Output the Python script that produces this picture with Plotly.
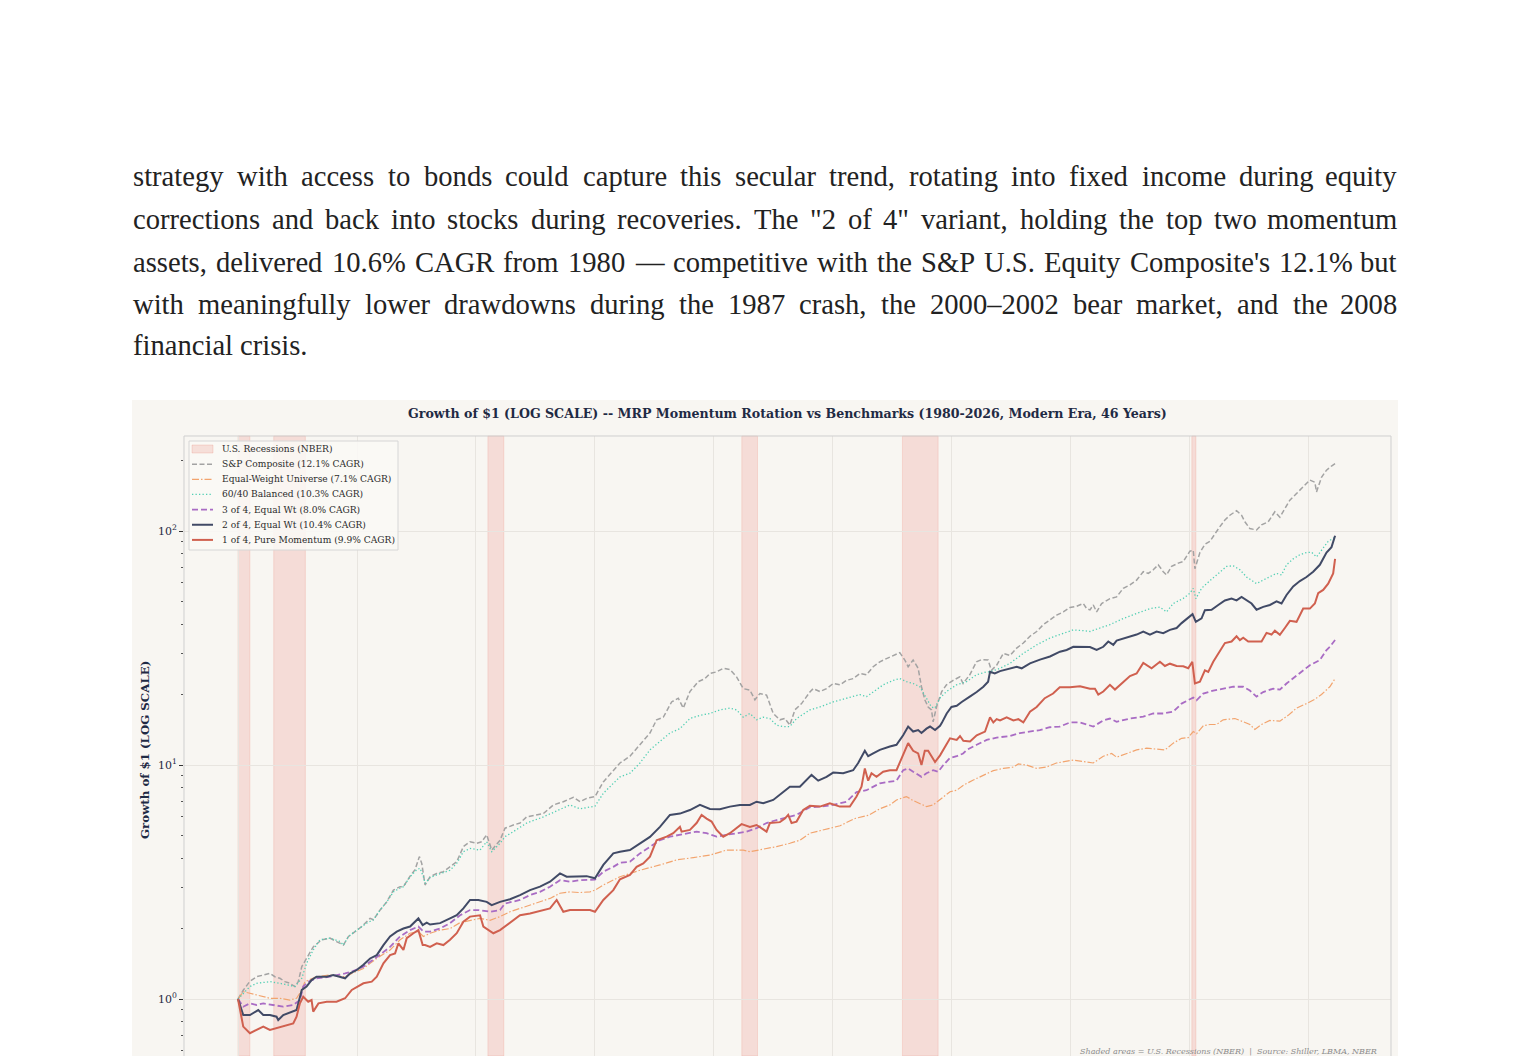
import plotly.graph_objects as go

# page body adds an 8px margin, so the figure is sized to fill the rest of the window
OFF = 8
W, H = 1530 - OFF, 1056 - OFF

# NBER recessions (decimal years)
REC_START = [1980.0, 1981.5, 1990.5, 2001.17, 2007.92, 2020.08]
REC_END = [1980.5, 1982.83, 1991.17, 2001.83, 2009.42, 2020.25]

# growth of $1, (year, value)
SP_COMPOSITE = [
    (1980.0, 1.0), (1980.22, 1.09), (1980.5, 1.19), (1980.78, 1.245), (1981.06, 1.266), (1981.34, 1.287),
    (1981.55, 1.245), (1981.76, 1.226), (1981.97, 1.186), (1982.18, 1.167), (1982.39, 1.13), (1982.53, 1.186),
    (1982.68, 1.375), (1982.88, 1.49), (1983.16, 1.67), (1983.51, 1.79), (1983.86, 1.82), (1984.14, 1.76),
    (1984.43, 1.70), (1984.64, 1.85), (1984.92, 1.94), (1985.2, 2.04), (1985.55, 2.21), (1985.69, 2.18),
    (1985.97, 2.40), (1986.25, 2.60), (1986.53, 2.92), (1986.81, 3.02), (1986.95, 3.02), (1987.23, 3.35),
    (1987.44, 3.57), (1987.62, 4.06), (1987.72, 3.80), (1987.86, 3.07), (1988.07, 3.33), (1988.35, 3.44),
    (1988.63, 3.50), (1988.91, 3.67), (1989.19, 3.86), (1989.47, 4.48), (1989.75, 4.70), (1990.03, 4.63),
    (1990.24, 4.70), (1990.45, 5.03), (1990.66, 4.33), (1991.01, 4.77), (1991.22, 5.37), (1991.57, 5.54),
    (1991.85, 5.65), (1992.13, 6.0), (1992.48, 6.12), (1992.83, 6.2), (1993.25, 6.75), (1993.67, 6.97),
    (1994.09, 7.28), (1994.37, 6.97), (1994.65, 7.2), (1995.0, 7.33), (1995.35, 8.47), (1995.77, 9.5),
    (1996.05, 10.2), (1996.47, 10.9), (1996.89, 12.2), (1997.31, 13.7), (1997.59, 15.6), (1997.87, 16.0),
    (1998.22, 18.6), (1998.5, 19.3), (1998.71, 17.5), (1998.99, 20.6), (1999.34, 22.7), (1999.62, 23.4),
    (1999.83, 24.6), (2000.11, 25.0), (2000.39, 25.9), (2000.67, 25.6), (2000.95, 23.8), (2001.23, 21.2),
    (2001.51, 20.9), (2001.72, 19.0), (2001.93, 20.2), (2002.21, 19.9), (2002.49, 16.6), (2002.77, 15.6),
    (2002.98, 15.8), (2003.19, 14.8), (2003.4, 17.2), (2003.68, 18.3), (2004.03, 20.5), (2004.17, 21.2),
    (2004.45, 20.6), (2004.73, 21.2), (2005.01, 22.3), (2005.29, 22.0), (2005.57, 23.0), (2005.85, 23.4),
    (2006.13, 24.6), (2006.41, 24.3), (2006.69, 26.3), (2006.97, 27.6), (2007.25, 28.5), (2007.53, 29.4),
    (2007.81, 30.2), (2008.02, 28.1), (2008.16, 26.3), (2008.37, 28.1), (2008.58, 25.9), (2008.72, 21.6),
    (2008.86, 19.0), (2009.0, 17.7), (2009.14, 17.2), (2009.21, 15.3), (2009.35, 17.7), (2009.57, 20.6),
    (2009.77, 22.0), (2010.05, 23.0), (2010.33, 23.8), (2010.47, 22.3), (2010.75, 24.3), (2011.03, 27.6),
    (2011.24, 28.2), (2011.52, 28.1), (2011.66, 25.4), (2011.88, 26.7), (2012.16, 30.0), (2012.44, 29.4),
    (2012.72, 31.6), (2013.0, 33.2), (2013.28, 35.5), (2013.56, 37.2), (2013.84, 39.8), (2014.12, 41.7),
    (2014.4, 43.7), (2014.68, 45.1), (2014.96, 47.1), (2015.24, 47.7), (2015.52, 49.0), (2015.66, 46.6),
    (2015.8, 46.0), (2015.94, 48.3), (2016.08, 45.1), (2016.29, 49.0), (2016.64, 51.4), (2016.92, 52.3),
    (2017.2, 56.9), (2017.48, 58.8), (2017.76, 61.7), (2018.04, 67.0), (2018.25, 65.9), (2018.46, 68.3),
    (2018.67, 71.7), (2018.88, 67.0), (2019.02, 64.9), (2019.23, 70.6), (2019.51, 72.9), (2019.72, 74.0),
    (2020.0, 82.0), (2020.14, 82.8), (2020.21, 69.0), (2020.42, 80.9), (2020.63, 87.7), (2020.84, 90.3),
    (2021.05, 97.5), (2021.26, 104.4), (2021.47, 111.4), (2021.68, 116.8), (2021.96, 122.1), (2022.17, 116.8),
    (2022.31, 109.5), (2022.52, 102.4), (2022.8, 101.0), (2023.01, 106.2), (2023.29, 109.5), (2023.57, 120.8),
    (2023.78, 114.6), (2023.99, 124.8), (2024.2, 135.5), (2024.48, 144.6), (2024.76, 154.5), (2025.04, 165.0),
    (2025.25, 161.6), (2025.32, 146.9), (2025.53, 169.7), (2025.74, 182.0), (2025.95, 189.5), (2026.1, 193.9),
]

EQUAL_WEIGHT = [
    (1980.0, 1.0), (1980.22, 1.075), (1980.5, 1.058), (1980.78, 1.04), (1981.06, 1.023), (1981.34, 1.007),
    (1981.76, 1.007), (1982.18, 0.99), (1982.46, 1.007), (1982.68, 1.093), (1982.81, 1.186), (1983.3, 1.245),
    (1983.86, 1.266), (1984.5, 1.245), (1984.78, 1.287), (1985.27, 1.35), (1985.55, 1.42), (1985.83, 1.49),
    (1986.39, 1.62), (1986.81, 1.79), (1987.23, 1.91), (1987.58, 1.94), (1987.79, 1.85), (1988.07, 1.91),
    (1988.49, 1.97), (1988.91, 2.0), (1989.33, 2.12), (1989.75, 2.17), (1990.17, 2.21), (1990.59, 2.17),
    (1991.01, 2.25), (1991.43, 2.36), (1991.85, 2.44), (1992.27, 2.52), (1992.69, 2.60), (1993.11, 2.69),
    (1993.53, 2.83), (1993.95, 2.87), (1994.37, 2.85), (1994.79, 2.87), (1995.0, 2.92), (1995.35, 3.07),
    (1996.05, 3.33), (1996.89, 3.55), (1997.73, 3.74), (1998.43, 3.93), (1999.13, 4.02), (1999.83, 4.12),
    (2000.53, 4.33), (2001.23, 4.33), (2001.51, 4.26), (2001.93, 4.33), (2002.63, 4.48), (2003.19, 4.63),
    (2003.61, 4.77), (2004.03, 5.11), (2004.7, 5.3), (2005.3, 5.5), (2005.9, 5.9), (2006.5, 6.1),
    (2006.97, 6.5), (2007.39, 6.75), (2007.67, 7.09), (2008.09, 7.33), (2008.37, 7.05), (2008.65, 6.86),
    (2008.93, 6.64), (2009.21, 6.75), (2009.57, 7.2), (2009.92, 7.69), (2010.2, 7.8), (2010.48, 8.2),
    (2010.9, 8.63), (2011.32, 9.07), (2011.74, 9.46), (2012.16, 9.67), (2012.58, 9.8), (2012.79, 10.1),
    (2013.14, 10.0), (2013.56, 9.67), (2013.97, 9.8), (2014.39, 10.2), (2014.81, 10.35), (2015.1, 10.5),
    (2015.52, 10.35), (2015.94, 10.2), (2016.36, 10.9), (2016.71, 11.2), (2016.92, 10.8), (2017.34, 11.2),
    (2017.76, 11.6), (2018.18, 11.8), (2018.6, 11.7), (2018.95, 11.6), (2019.3, 12.4), (2019.65, 13.0),
    (2019.93, 13.1), (2020.14, 13.9), (2020.28, 13.6), (2020.56, 14.7), (2020.84, 14.9), (2021.12, 14.9),
    (2021.4, 15.6), (2021.89, 15.8), (2022.24, 15.3), (2022.52, 14.9), (2022.73, 14.2), (2023.01, 14.9),
    (2023.36, 15.5), (2023.78, 15.4), (2024.13, 16.3), (2024.48, 17.5), (2024.9, 18.3), (2025.25, 19.1),
    (2025.53, 20.0), (2025.88, 21.6), (2026.1, 23.4),
]

BALANCED_6040 = [
    (1980.0, 1.0), (1980.22, 1.06), (1980.5, 1.13), (1980.78, 1.167), (1981.06, 1.18), (1981.34, 1.186),
    (1981.76, 1.167), (1982.11, 1.148), (1982.39, 1.13), (1982.68, 1.226), (1982.88, 1.42), (1983.16, 1.62),
    (1983.44, 1.79), (1983.86, 1.82), (1984.29, 1.76), (1984.43, 1.70), (1984.64, 1.85), (1984.99, 1.97),
    (1985.41, 2.11), (1985.69, 2.18), (1985.97, 2.40), (1986.25, 2.60), (1986.53, 2.87), (1986.81, 2.98),
    (1986.95, 3.02), (1987.23, 3.33), (1987.51, 3.57), (1987.65, 3.62), (1987.79, 3.33), (1987.86, 3.12),
    (1988.07, 3.30), (1988.35, 3.39), (1988.91, 3.55), (1989.19, 3.80), (1989.47, 4.26), (1989.75, 4.40),
    (1990.17, 4.33), (1990.45, 4.70), (1990.66, 4.26), (1991.01, 4.63), (1991.22, 4.94), (1991.57, 5.19),
    (1992.13, 5.65), (1992.83, 6.0), (1993.25, 6.29), (1993.95, 6.75), (1994.37, 6.5), (1995.0, 6.67),
    (1995.35, 7.57), (1996.05, 8.9), (1996.47, 9.22), (1996.89, 10.2), (1997.31, 11.6), (1997.73, 12.6),
    (1998.15, 13.7), (1998.57, 14.3), (1998.99, 15.8), (1999.41, 16.3), (1999.83, 16.6), (2000.25, 17.2),
    (2000.67, 17.5), (2000.95, 17.2), (2001.23, 16.0), (2001.51, 16.6), (2001.79, 15.6), (2002.07, 16.0),
    (2002.35, 15.8), (2002.63, 14.8), (2002.91, 14.6), (2003.19, 14.6), (2003.47, 15.8), (2004.03, 17.2),
    (2004.45, 17.7), (2005.01, 18.6), (2005.57, 19.3), (2006.13, 20.0), (2006.41, 19.6), (2006.69, 20.6),
    (2007.11, 22.0), (2007.53, 23.0), (2007.81, 23.4), (2008.09, 22.7), (2008.37, 22.3), (2008.65, 21.6),
    (2008.93, 19.3), (2009.14, 17.7), (2009.28, 17.5), (2009.49, 19.3), (2009.77, 20.6), (2010.19, 22.0),
    (2010.61, 22.7), (2011.03, 24.3), (2011.45, 25.0), (2011.6, 25.0), (2012.02, 25.9), (2012.44, 27.2),
    (2013.0, 30.0), (2013.56, 32.6), (2014.12, 34.9), (2014.68, 36.6), (2015.1, 37.8), (2015.52, 37.5),
    (2015.8, 37.2), (2016.22, 38.5), (2016.64, 39.8), (2017.2, 42.3), (2017.76, 44.4), (2018.32, 46.6),
    (2018.74, 47.3), (2019.02, 45.1), (2019.3, 49.0), (2019.72, 51.5), (2020.0, 54.2), (2020.14, 56.9),
    (2020.25, 51.4), (2020.49, 56.9), (2020.7, 59.6), (2020.98, 62.9), (2021.26, 67.0), (2021.54, 70.6),
    (2021.82, 71.0), (2022.1, 68.3), (2022.38, 63.6), (2022.8, 59.6), (2023.08, 61.7), (2023.36, 63.6),
    (2023.64, 65.9), (2023.85, 64.9), (2024.06, 71.7), (2024.34, 76.0), (2024.62, 79.2), (2024.9, 80.9),
    (2025.11, 81.2), (2025.32, 77.5), (2025.53, 82.8), (2025.81, 90.3), (2026.02, 93.0), (2026.1, 94.0),
]

THREE_OF_FOUR = [
    (1980.0, 1.0), (1980.22, 0.927), (1980.5, 0.958), (1980.78, 0.943), (1981.06, 0.958), (1981.48, 0.943),
    (1981.9, 0.927), (1982.32, 0.943), (1982.6, 0.99), (1982.74, 1.13), (1982.95, 1.186), (1983.3, 1.226),
    (1983.86, 1.245), (1984.5, 1.287), (1984.78, 1.308), (1985.27, 1.375), (1985.55, 1.44), (1985.83, 1.51),
    (1986.39, 1.67), (1986.81, 1.85), (1987.23, 1.97), (1987.58, 2.04), (1987.79, 1.94), (1988.07, 1.94),
    (1988.49, 2.0), (1988.91, 2.11), (1989.33, 2.28), (1989.75, 2.40), (1990.1, 2.40), (1990.59, 2.36),
    (1991.01, 2.40), (1991.22, 2.56), (1991.85, 2.65), (1992.27, 2.78), (1992.69, 2.87), (1993.11, 3.02),
    (1993.53, 3.22), (1993.95, 3.17), (1994.37, 3.22), (1995.0, 3.24), (1995.35, 3.50), (1995.77, 3.67),
    (1996.05, 3.82), (1996.47, 3.86), (1996.89, 4.19), (1997.31, 4.48), (1997.73, 4.77), (1998.15, 4.94),
    (1998.57, 5.03), (1998.99, 5.11), (1999.27, 5.19), (1999.69, 5.11), (2000.11, 4.94), (2000.53, 5.03),
    (2000.95, 5.11), (2001.37, 5.19), (2001.79, 5.37), (2002.21, 5.65), (2002.63, 5.82), (2003.05, 5.99),
    (2003.47, 6.12), (2004.03, 6.6), (2004.45, 6.64), (2005.01, 6.75), (2005.57, 6.97), (2005.99, 7.66),
    (2006.41, 7.8), (2006.97, 8.35), (2007.39, 8.47), (2007.67, 8.57), (2007.95, 9.5), (2008.16, 9.67),
    (2008.37, 9.36), (2008.72, 8.9), (2008.93, 9.22), (2009.21, 9.5), (2009.42, 9.36), (2009.64, 10.0),
    (2009.91, 10.7), (2010.2, 10.9), (2010.47, 11.2), (2010.62, 11.6), (2011.04, 12.2), (2011.46, 12.8),
    (2011.88, 13.1), (2012.44, 13.3), (2012.86, 13.7), (2013.28, 13.9), (2013.69, 14.1), (2014.11, 14.5),
    (2014.53, 14.6), (2014.96, 15.2), (2015.38, 15.2), (2015.94, 14.6), (2016.36, 15.5), (2016.64, 15.8),
    (2016.92, 15.3), (2017.48, 15.8), (2018.04, 16.1), (2018.46, 16.6), (2018.88, 16.6), (2019.3, 16.9),
    (2019.65, 18.3), (2020.0, 19.1), (2020.14, 19.4), (2020.28, 18.9), (2020.56, 20.2), (2020.98, 20.8),
    (2021.4, 21.2), (2021.82, 21.6), (2022.24, 21.6), (2022.52, 20.8), (2022.8, 19.6), (2023.08, 20.5),
    (2023.5, 21.2), (2023.78, 21.0), (2024.06, 22.3), (2024.48, 24.0), (2025.04, 26.7), (2025.46, 28.1),
    (2025.74, 31.0), (2025.88, 32.0), (2026.1, 34.2),
]

TWO_OF_FOUR = [
    (1980.0, 1.0), (1980.22, 0.854), (1980.5, 0.854), (1980.85, 0.897), (1981.06, 0.854), (1981.34, 0.854),
    (1981.62, 0.84), (1981.69, 0.813), (1981.9, 0.854), (1982.32, 0.883), (1982.46, 0.897), (1982.68, 1.093),
    (1982.88, 1.13), (1983.09, 1.205), (1983.3, 1.245), (1983.73, 1.245), (1984.0, 1.266), (1984.5, 1.226),
    (1984.71, 1.287), (1984.99, 1.33), (1985.27, 1.40), (1985.55, 1.49), (1985.83, 1.54), (1986.11, 1.70),
    (1986.39, 1.85), (1986.67, 1.94), (1986.95, 2.0), (1987.23, 2.04), (1987.58, 2.21), (1987.76, 2.07),
    (1987.93, 2.12), (1988.07, 2.08), (1988.49, 2.11), (1988.91, 2.21), (1989.19, 2.28), (1989.47, 2.44),
    (1989.75, 2.65), (1990.1, 2.65), (1990.45, 2.60), (1990.66, 2.52), (1991.01, 2.60), (1991.43, 2.67),
    (1991.85, 2.78), (1992.27, 2.92), (1992.69, 3.02), (1993.11, 3.17), (1993.53, 3.44), (1993.81, 3.33),
    (1994.23, 3.33), (1994.65, 3.35), (1995.0, 3.28), (1995.35, 3.74), (1995.77, 4.19), (1996.05, 4.26),
    (1996.47, 4.33), (1996.89, 4.63), (1997.31, 4.93), (1997.73, 5.44), (1998.15, 6.12), (1998.57, 6.2),
    (1998.99, 6.42), (1999.41, 6.75), (1999.83, 6.49), (2000.25, 6.47), (2000.67, 6.64), (2001.09, 6.75),
    (2001.51, 6.75), (2001.79, 6.97), (2002.07, 6.86), (2002.49, 7.09), (2002.91, 7.66), (2003.19, 8.08),
    (2003.61, 8.08), (2003.89, 8.6), (2004.1, 9.07), (2004.38, 8.57), (2004.73, 8.9), (2005.01, 9.28),
    (2005.43, 9.22), (2005.85, 9.5), (2006.06, 10.2), (2006.34, 11.5), (2006.48, 10.9), (2006.69, 11.2),
    (2006.97, 11.6), (2007.39, 12.0), (2007.67, 12.2), (2007.95, 13.4), (2008.16, 14.6), (2008.37, 13.9),
    (2008.58, 14.1), (2008.72, 13.7), (2008.93, 14.3), (2009.08, 14.6), (2009.29, 14.1), (2009.5, 14.7),
    (2009.57, 15.1), (2009.78, 16.6), (2009.98, 17.7), (2010.2, 17.9), (2010.41, 18.6), (2010.75, 19.6),
    (2011.04, 20.5), (2011.32, 21.6), (2011.52, 22.7), (2011.6, 25.0), (2011.8, 24.6), (2012.02, 25.2),
    (2012.44, 25.9), (2012.72, 26.3), (2012.93, 25.9), (2013.28, 27.2), (2013.7, 28.2), (2014.12, 29.1),
    (2014.54, 30.5), (2014.82, 31.0), (2015.1, 32.0), (2015.52, 32.0), (2015.8, 31.9), (2016.08, 31.0),
    (2016.36, 32.0), (2016.57, 33.7), (2016.78, 32.6), (2016.92, 34.0), (2017.48, 35.5), (2017.76, 36.1),
    (2018.04, 37.2), (2018.32, 36.1), (2018.6, 37.2), (2018.88, 36.6), (2019.16, 37.8), (2019.44, 38.5),
    (2019.65, 40.4), (2019.93, 42.5), (2020.11, 44.1), (2020.25, 40.9), (2020.49, 42.3), (2020.63, 45.9),
    (2020.91, 46.1), (2021.19, 48.3), (2021.47, 50.5), (2021.75, 51.4), (2021.96, 50.5), (2022.17, 52.3),
    (2022.38, 50.5), (2022.59, 49.0), (2022.8, 46.1), (2023.08, 47.4), (2023.36, 48.3), (2023.64, 50.0),
    (2023.85, 49.0), (2024.06, 53.3), (2024.34, 58.0), (2024.62, 61.1), (2024.9, 63.6), (2025.18, 67.0),
    (2025.46, 71.7), (2025.74, 80.9), (2025.95, 85.3), (2026.1, 95.4),
]

ONE_OF_FOUR = [
    (1980.0, 1.0), (1980.22, 0.762), (1980.5, 0.714), (1980.78, 0.737), (1981.06, 0.762), (1981.34, 0.737),
    (1981.62, 0.75), (1981.9, 0.762), (1982.32, 0.787), (1982.46, 0.84), (1982.6, 0.958), (1982.74, 1.023),
    (1982.95, 0.974), (1983.09, 0.99), (1983.16, 0.883), (1983.38, 0.958), (1983.73, 0.974), (1984.14, 0.974),
    (1984.5, 1.007), (1984.78, 1.093), (1985.27, 1.167), (1985.62, 1.186), (1985.83, 1.245), (1986.11, 1.42),
    (1986.39, 1.54), (1986.6, 1.567), (1986.74, 1.73), (1986.95, 1.62), (1987.09, 1.82), (1987.37, 1.91),
    (1987.58, 1.97), (1987.76, 1.70), (1987.86, 1.70), (1988.07, 1.67), (1988.35, 1.73), (1988.63, 1.70),
    (1988.91, 1.79), (1989.19, 1.91), (1989.47, 2.14), (1989.75, 2.25), (1990.03, 2.28), (1990.17, 2.28),
    (1990.31, 2.04), (1990.45, 2.0), (1990.73, 1.91), (1991.01, 1.97), (1991.43, 2.11), (1991.85, 2.28),
    (1992.27, 2.32), (1992.69, 2.38), (1993.11, 2.44), (1993.39, 2.65), (1993.67, 2.36), (1993.95, 2.40),
    (1994.37, 2.40), (1994.79, 2.40), (1995.0, 2.36), (1995.35, 2.65), (1995.77, 2.92), (1996.05, 3.25),
    (1996.47, 3.39), (1996.75, 3.67), (1997.03, 3.80), (1997.31, 4.06), (1997.59, 4.77), (1998.01, 4.94),
    (1998.29, 5.11), (1998.57, 5.44), (1998.64, 5.19), (1998.99, 5.28), (1999.27, 5.65), (1999.48, 6.12),
    (1999.69, 5.9), (1999.9, 5.73), (2000.11, 5.28), (2000.39, 4.94), (2000.67, 5.11), (2000.95, 5.37),
    (2001.16, 5.59), (2001.51, 5.44), (2001.79, 5.54), (2002.07, 5.31), (2002.21, 5.19), (2002.35, 5.65),
    (2002.77, 5.7), (2002.98, 5.9), (2003.12, 6.12), (2003.26, 5.65), (2003.47, 5.73), (2003.75, 6.42),
    (2004.03, 6.7), (2004.45, 6.64), (2004.87, 6.86), (2005.29, 6.64), (2005.71, 6.64), (2005.99, 7.33),
    (2006.2, 8.08), (2006.34, 9.67), (2006.48, 8.57), (2006.62, 9.22), (2006.83, 8.9), (2007.11, 9.36),
    (2007.39, 9.5), (2007.67, 9.5), (2007.81, 10.3), (2008.02, 11.6), (2008.16, 12.4), (2008.37, 11.5),
    (2008.58, 11.2), (2008.72, 10.0), (2008.86, 11.5), (2009.0, 11.5), (2009.14, 10.85), (2009.29, 10.3),
    (2009.5, 11.0), (2009.71, 12.0), (2009.92, 13.0), (2010.2, 12.8), (2010.34, 13.3), (2010.48, 12.7),
    (2010.76, 12.6), (2011.04, 13.4), (2011.39, 13.9), (2011.6, 16.0), (2011.74, 15.2), (2011.88, 15.7),
    (2012.02, 15.5), (2012.3, 16.0), (2012.58, 15.5), (2012.79, 15.7), (2013.0, 15.2), (2013.28, 16.9),
    (2013.56, 17.7), (2013.9, 19.3), (2014.25, 20.2), (2014.53, 21.5), (2014.96, 21.5), (2015.38, 21.7),
    (2015.8, 21.2), (2016.01, 21.2), (2016.15, 20.0), (2016.36, 20.6), (2016.64, 22.0), (2016.85, 21.0),
    (2017.13, 22.3), (2017.48, 24.0), (2017.76, 24.6), (2018.04, 27.3), (2018.39, 25.9), (2018.74, 27.6),
    (2018.95, 26.5), (2019.16, 27.1), (2019.44, 26.5), (2019.72, 26.4), (2019.93, 25.9), (2020.1, 27.6),
    (2020.21, 22.3), (2020.42, 22.7), (2020.63, 25.4), (2020.77, 25.0), (2020.98, 27.6), (2021.26, 30.5),
    (2021.47, 33.2), (2021.75, 33.7), (2021.96, 35.5), (2022.1, 34.2), (2022.24, 35.0), (2022.45, 33.7),
    (2022.8, 33.7), (2023.01, 33.7), (2023.22, 36.7), (2023.43, 36.1), (2023.57, 37.5), (2023.78, 36.0),
    (2023.99, 38.5), (2024.2, 41.3), (2024.48, 40.9), (2024.76, 46.6), (2025.04, 46.6), (2025.25, 49.0),
    (2025.39, 54.2), (2025.6, 56.0), (2025.81, 59.6), (2026.02, 65.9), (2026.1, 76.0),
]

LEGEND_RECESSION = "U.S. Recessions (NBER)"
SERIES = [
    ("S&amp;P Composite (12.1% CAGR)", SP_COMPOSITE, "#a3a3a3", "5px,2.5px", 1.5),
    ("Equal-Weight Universe (7.1% CAGR)", EQUAL_WEIGHT, "#f2a46e", "7px,2px,1.5px,2px", 1.2),
    ("60/40 Balanced (10.3% CAGR)", BALANCED_6040, "#52cfb4", "1.3px,2.2px", 1.3),
    ("3 of 4, Equal Wt (8.0% CAGR)", THREE_OF_FOUR, "#a96cc4", "6px,3px", 1.8),
    ("2 of 4, Equal Wt (10.4% CAGR)", TWO_OF_FOUR, "#414a66", "solid", 2.0),
    ("1 of 4, Pure Momentum (9.9% CAGR)", ONE_OF_FOUR, "#d0604f", "solid", 2.0),
]

TITLE = "Growth of $1 (LOG SCALE) -- MRP Momentum Rotation vs Benchmarks (1980-2026, Modern Era, 46 Years)"
Y_LABEL = "Growth of $1 (LOG SCALE)"
FOOTNOTE = "Shaded areas = U.S. Recessions (NBER)  |  Source: Shiller, LBMA, NBER"
Y_TICKS = [1, 10, 100]
Y_TICK_TEXT = ["10<sup>0</sup>", "10<sup>1</sup>", "10<sup>2</sup>"]
Y_MINOR = [0.6, 0.7, 0.8, 0.9, 2, 3, 4, 5, 6, 7, 8, 9, 20, 30, 40, 50, 60, 70, 80, 90, 200]

PARA_LINES = [
    "strategy with access to bonds could capture this secular trend, rotating into fixed income during equity",
    "corrections and back into stocks during recoveries. The \"2 of 4\" variant, holding the top two momentum",
    "assets, delivered 10.6% CAGR from 1980 \u2014 competitive with the S&amp;P U.S. Equity Composite's 12.1% but",
    "with meaningfully lower drawdowns during the 1987 crash, the 2000\u20132002 bear market, and the 2008",
    "financial crisis.",
]

# Times / Liberation Serif advance widths (1/1000 em), used to justify the paragraph
TIMES_W = {
    ' ': 250, '"': 408, "'": 180, '%': 833, '&': 778, ',': 250, '.': 250, '-': 333, '\u2014': 1000,
    '\u2013': 500, '$': 500, '(': 333, ')': 333,
    'A': 722, 'B': 667, 'C': 667, 'D': 722, 'E': 611, 'F': 556, 'G': 722, 'H': 722, 'I': 333,
    'J': 389, 'K': 722, 'L': 611, 'M': 889, 'N': 722, 'O': 722, 'P': 556, 'Q': 722, 'R': 667,
    'S': 556, 'T': 611, 'U': 722, 'V': 722, 'W': 944, 'X': 722, 'Y': 722, 'Z': 611,
    'a': 444, 'b': 500, 'c': 444, 'd': 500, 'e': 444, 'f': 333, 'g': 500, 'h': 500, 'i': 278,
    'j': 278, 'k': 500, 'l': 278, 'm': 778, 'n': 500, 'o': 500, 'p': 500, 'q': 500, 'r': 333,
    's': 389, 't': 278, 'u': 500, 'v': 500, 'w': 722, 'x': 500, 'y': 500, 'z': 444,
}

PARA_SIZE = 28.6
PARA_LEFT, PARA_RIGHT = 132, 1398
PARA_Y = [177, 219, 262, 304, 346]


def px(x):
    # screen pixel -> paper fraction
    return (x - OFF) / W


def py(y):
    return 1 - (y - OFF) / H


def word_width(word, size):
    word = word.replace("&amp;", "&")
    return sum(TIMES_W.get(c, 500) for c in word) * size / 1000.0


fig = go.Figure()

for name, pts, color, dash, width in SERIES:
    fig.add_trace(go.Scatter(
        x=[p[0] for p in pts],
        y=[p[1] for p in pts],
        mode='lines',
        name=name,
        showlegend=False,
        line=dict(color=color, width=width, dash=dash),
    ))

shapes = []
# beige figure panel
shapes.append(dict(type='rect', xref='paper', yref='paper', x0=px(132), x1=px(1398), y0=0, y1=py(400),
                   fillcolor='#f8f6f2', line=dict(width=0), layer='below'))
for s, e in zip(REC_START, REC_END):
    shapes.append(dict(type='rect', xref='x', yref='y domain', x0=s, x1=e, y0=0, y1=1,
                       fillcolor='rgba(231,76,60,0.15)', line=dict(color='rgba(231,76,60,0.18)', width=0.8),
                       layer='below'))
# axes frame (left, top, right)
frame = '#cfcfcf'
shapes.append(dict(type='line', xref='paper', yref='paper', x0=px(184), x1=px(184), y0=0, y1=py(436),
                   line=dict(color=frame, width=1)))
shapes.append(dict(type='line', xref='paper', yref='paper', x0=px(184), x1=px(1391), y0=py(436), y1=py(436),
                   line=dict(color=frame, width=1)))
shapes.append(dict(type='line', xref='paper', yref='paper', x0=px(1391), x1=px(1391), y0=0, y1=py(436),
                   line=dict(color=frame, width=1)))

# legend box
shapes.append(dict(type='rect', xref='paper', yref='paper', x0=px(189), x1=px(398), y0=py(550), y1=py(441),
                   fillcolor='rgba(250,249,246,0.85)', line=dict(color='#d6d6d6', width=1)))

annotations = []
leg_font = dict(family='DejaVu Serif', size=9.1, color='#2b2b2b')
row_y = [449 + 15.15 * i for i in range(7)]
shapes.append(dict(type='rect', xref='paper', yref='paper', x0=px(192), x1=px(213),
                   y0=py(row_y[0] + 4), y1=py(row_y[0] - 4),
                   fillcolor='rgba(231,76,60,0.15)', line=dict(color='rgba(231,76,60,0.2)', width=0.8)))
annotations.append(dict(text=LEGEND_RECESSION, x=px(221), y=py(row_y[0]), xref='paper', yref='paper',
                        xanchor='left', yanchor='middle', showarrow=False, font=leg_font, borderpad=0))
for i, (name, pts, color, dash, width) in enumerate(SERIES):
    yy = py(row_y[i + 1])
    shapes.append(dict(type='line', xref='paper', yref='paper', x0=px(192), x1=px(213), y0=yy, y1=yy,
                       line=dict(color=color, width=width, dash=dash)))
    annotations.append(dict(text=name, x=px(221), y=yy, xref='paper', yref='paper',
                            xanchor='left', yanchor='middle', showarrow=False, font=leg_font, borderpad=0))

# title, axis label, footnote
annotations.append(dict(text='<b>' + TITLE + '</b>', x=px(787), y=py(413), xref='paper', yref='paper',
                        xanchor='center', yanchor='middle', showarrow=False,
                        font=dict(family='DejaVu Serif', size=12.6, color='#1f2a44')))
annotations.append(dict(text='<b>' + Y_LABEL + '</b>', x=px(145), y=py(750), xref='paper', yref='paper',
                        xanchor='center', yanchor='middle', showarrow=False, textangle=-90,
                        font=dict(family='DejaVu Serif', size=11.8, color='#1f2a44')))
annotations.append(dict(text='<i>' + FOOTNOTE + '</i>', x=px(1379), y=py(1051), xref='paper', yref='paper',
                        xanchor='right', yanchor='middle', showarrow=False,
                        font=dict(family='DejaVu Serif', size=8, color='#8c8c8c')))

# justified paragraph above the chart
para_font = dict(family='Liberation Serif', size=PARA_SIZE, color='#222222')
for li, line in enumerate(PARA_LINES):
    words = line.split(' ')
    widths = [word_width(w, PARA_SIZE) for w in words]
    last = li == len(PARA_LINES) - 1
    if last or len(words) == 1:
        gap = 0.25 * PARA_SIZE
    else:
        gap = (PARA_RIGHT - PARA_LEFT - sum(widths)) / (len(words) - 1)
    x = PARA_LEFT
    for wi, (w, ww) in enumerate(zip(words, widths)):
        if not last and wi == len(words) - 1:
            annotations.append(dict(text=w, x=px(PARA_RIGHT), y=py(PARA_Y[li]), xref='paper', yref='paper',
                                    xanchor='right', yanchor='middle', showarrow=False, font=para_font,
                                    borderpad=0))
        else:
            annotations.append(dict(text=w, x=px(x), y=py(PARA_Y[li]), xref='paper', yref='paper',
                                    xanchor='left', yanchor='middle', showarrow=False, font=para_font,
                                    borderpad=0))
        x += ww + gap

fig.update_layout(
    width=W,
    height=H,
    margin=dict(l=0, r=0, t=0, b=0),
    paper_bgcolor='white',
    plot_bgcolor='#f8f6f2',
    showlegend=False,
    shapes=shapes,
    annotations=annotations,
    xaxis=dict(
        domain=[px(184), px(1391)],
        range=[1977.73, 2028.45],
        tick0=1980, dtick=5,
        showticklabels=False, ticks='',
        showgrid=True, gridcolor='#e8e5e0', gridwidth=1,
        zeroline=False, showline=False,
    ),
    yaxis=dict(
        domain=[0, py(436)],
        type='log',
        range=[-(1056 - 999) / 234, 2.406],
        tickmode='array', tickvals=Y_TICKS, ticktext=Y_TICK_TEXT,
        ticks='outside', ticklen=4, tickwidth=1, tickcolor='#333333',
        tickfont=dict(family='DejaVu Serif', size=11, color='#1f2a44'),
        minor=dict(tickmode='array', tickvals=Y_MINOR, ticks='outside', ticklen=2,
                   tickwidth=0.8, tickcolor='#555555', showgrid=False),
        showgrid=True, gridcolor='#e8e5e0', gridwidth=1,
        zeroline=False, showline=False,
    ),
)

fig.write_html("out.html")
